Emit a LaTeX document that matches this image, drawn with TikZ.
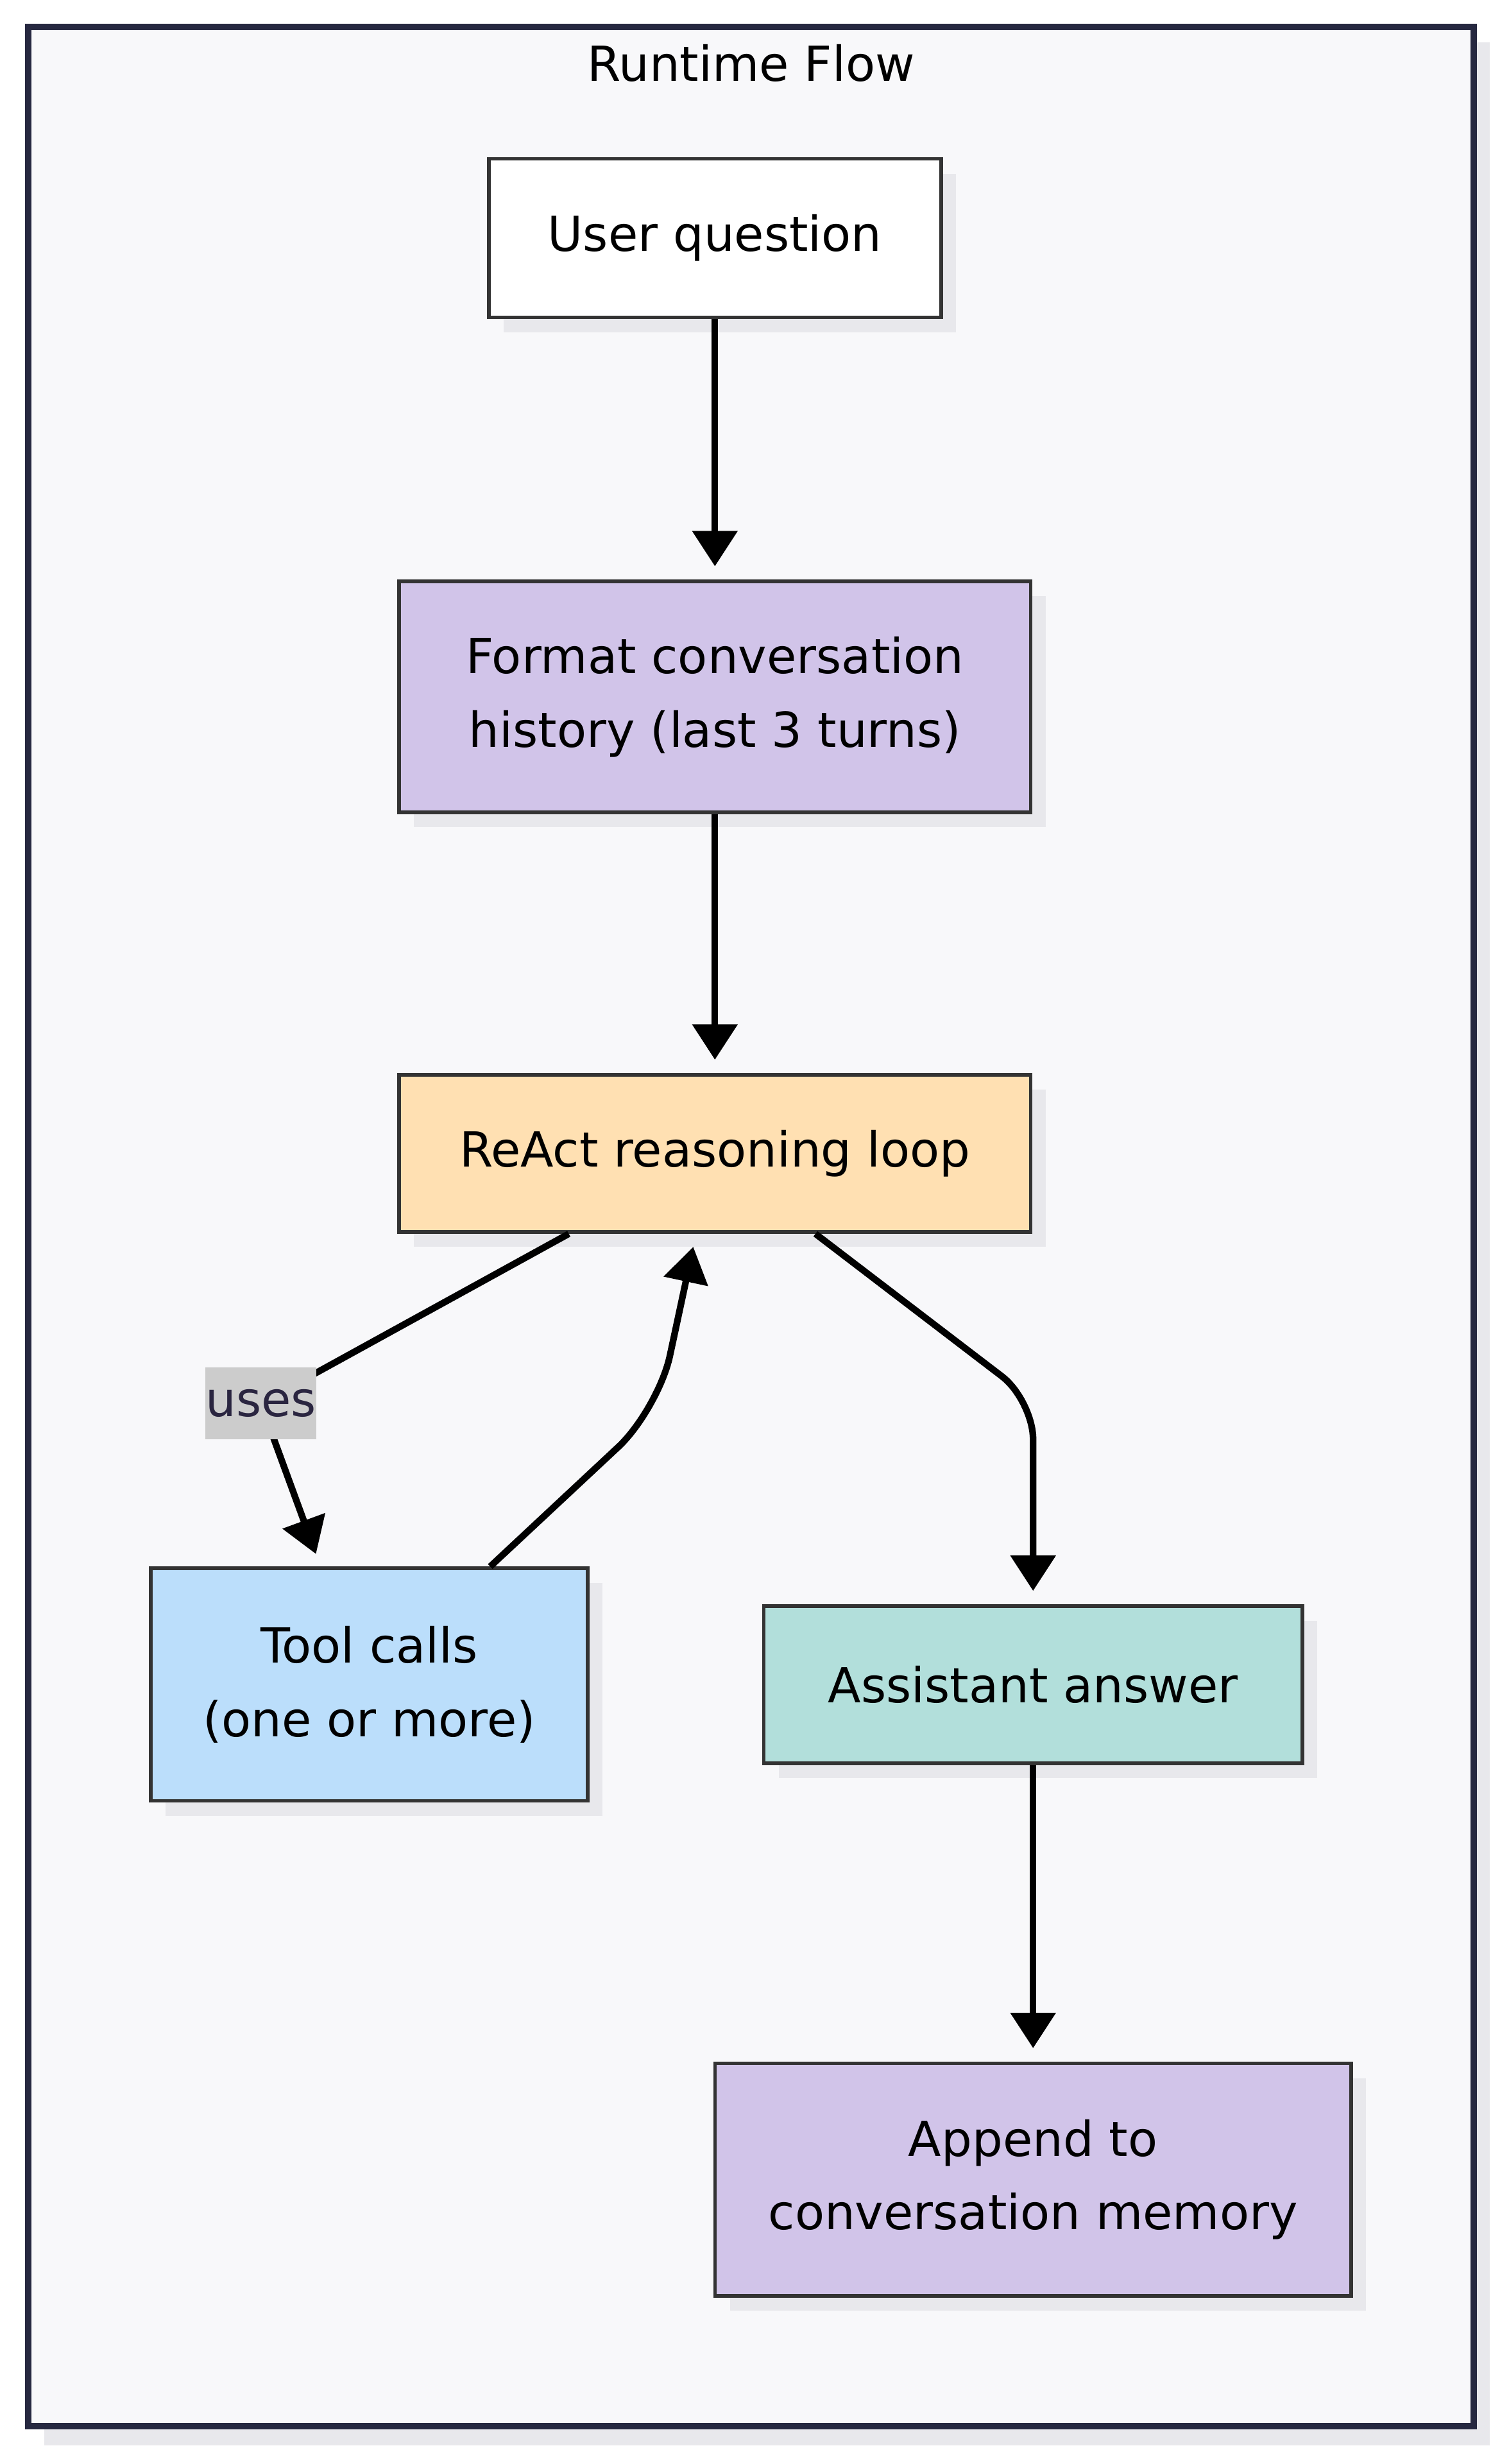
\documentclass[tikz,border=0pt]{standalone}
\usepackage{fontspec}
\setmainfont{DejaVu Sans}
\usetikzlibrary{arrows.meta,shadows}
\definecolor{framebg}{HTML}{F8F8FA}
\definecolor{frameline}{HTML}{262840}
\definecolor{boxline}{HTML}{333333}
\definecolor{shadowgray}{HTML}{E8E8EC}
\definecolor{lavender}{HTML}{D1C4E9}
\definecolor{peach}{HTML}{FFE0B2}
\definecolor{skyblue}{HTML}{BBDEFB}
\definecolor{mint}{HTML}{B2DFDB}
\definecolor{lblbg}{HTML}{CCCCCC}
\definecolor{lbltext}{HTML}{2A2540}
\begin{document}
\begin{tikzpicture}[x=0.02cm, y=-0.02cm, >={Triangle[length=0.45cm,width=0.56cm]},
    txt/.style={font=\fontsize{17.5}{26.7}\selectfont},
    box/.style={txt, draw=boxline, line width=1.3pt, align=center, inner sep=0pt,
        drop shadow={fill=shadowgray, opacity=1, shadow xshift=0.19cm, shadow yshift=-0.19cm}},
    lbl/.style={txt, fill=lblbg, text=lbltext, inner sep=0pt, minimum width=1.42cm, minimum height=0.92cm},
    arr/.style={->, line width=2.4pt, shorten >=0.17cm}]
    \useasboundingbox (0,0) rectangle (960,1568);
    % frame
    \fill[shadowgray] (28,27) rectangle (948,1556);
    \draw[fill=framebg, draw=frameline, line width=2.3pt] (18,17) rectangle (938,1544);
    \node[txt] (title) at (478,40) {Runtime Flow};

    \node[box, fill=white, minimum width=5.76cm, minimum height=2.02cm] (UQ) at (455,151.5) {User question};
    \node[box, fill=lavender, minimum width=8.04cm, minimum height=2.94cm] (FC) at (455,443.5) {Format conversation\\history (last 3 turns)};
    \node[box, fill=peach, minimum width=8.04cm, minimum height=2cm] (RA) at (455,734) {ReAct reasoning loop};
    \node[box, fill=skyblue, minimum width=5.56cm, minimum height=2.96cm] (TC) at (235,1072) {Tool calls\\(one or more)};
    \node[box, fill=mint, minimum width=6.86cm, minimum height=2cm] (AA) at (657.5,1072) {Assistant answer};
    \node[box, fill=lavender, minimum width=8.1cm, minimum height=2.96cm] (AP) at (657.5,1387) {Append to\\conversation memory};

    \draw[arr] (UQ) -- (FC);
    \draw[arr] (FC) -- (RA);
    \draw[arr] ([xshift=-1.86cm]RA.south) -- (166,893) node[lbl] (uses) {uses} -- ([xshift=-0.62cm]TC.north);
    \draw[arr, rounded corners=0.7cm] ([xshift=1.54cm]TC.north) -- (419,897) -- ([xshift=-0.24cm]RA.south);
    \draw[arr, rounded corners=0.5cm] ([xshift=1.28cm]RA.south) -- (657.5,891) -- (AA);
    \draw[arr] (AA) -- (AP);
\end{tikzpicture}
\end{document}
